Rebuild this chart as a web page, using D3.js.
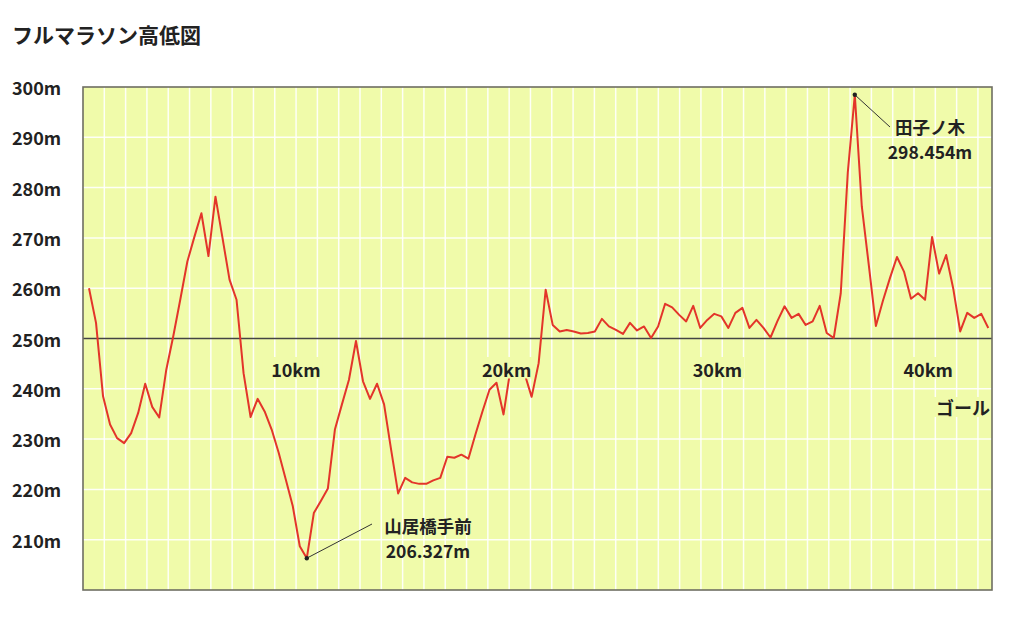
<!DOCTYPE html>
<html>
<head>
<meta charset="utf-8">
<script src="https://cdn.jsdelivr.net/npm/d3@7"></script>
<style>
  html, body { margin: 0; padding: 0; background: #ffffff; }
  svg { display: block; }
  text { font-family: "Noto Sans CJK JP", "Noto Sans", sans-serif; fill: #222; }
</style>
</head>
<body>
<svg id="chart" width="1024" height="622"></svg>
<script>
// ---- data ----
const title = "フルマラソン高低図";
const elevations = [
  260.0, 253.1, 238.5, 232.9, 230.2, 229.2, 231.2, 235.2, 241.0, 236.4,
  234.3, 243.8, 250.5, 257.8, 265.3, 270.2, 274.9, 266.4, 278.2, 270.0,
  261.7, 257.7, 243.1, 234.4, 238.0, 235.5, 231.9, 227.3, 222.0, 216.7,
  208.7, 206.327, 215.3, 217.7, 220.2, 231.9, 236.9, 241.8, 249.5, 241.5,
  238.0, 241.0, 236.9, 227.9, 219.2, 222.3, 221.4, 221.1, 221.1, 221.8,
  222.3, 226.5, 226.3, 226.9, 226.1, 230.9, 235.5, 239.8, 241.2, 234.9,
  244.0, 245.0, 243.0, 238.4, 245.1, 259.7, 252.7, 251.4, 251.7, 251.4,
  251.0, 251.1, 251.4, 253.9, 252.4, 251.7, 250.9, 253.1, 251.6, 252.4,
  250.1, 252.4, 256.9, 256.2, 254.7, 253.4, 256.5, 252.1, 253.7, 254.9,
  254.4, 252.1, 255.1, 256.1, 252.1, 253.7, 252.1, 250.2, 253.5, 256.4,
  254.1, 254.9, 252.7, 253.4, 256.5, 251.1, 250.1, 259.0, 283.0, 298.454,
  276.2, 264.5, 252.5, 257.5, 262.0, 266.2, 263.3, 257.9, 259.0, 257.7,
  270.2, 262.9, 266.6, 260.0, 251.4, 255.1, 254.1, 254.9, 252.1
];
const yTicks = [300, 290, 280, 270, 260, 250, 240, 230, 220, 210];
const gridLevels = [290, 280, 270, 260, 240, 230, 220, 210];
const baseLevel = 250;
const kmMarks = [10, 20, 30, 40];
const kmLabels = ["10km", "20km", "30km", "40km"];
const goalLabel = "ゴール";
const annotationIndex = [31, 109];
const annotationNames = ["山居橋手前", "田子ノ木"];
const annotationValues = ["206.327m", "298.454m"];

// ---- layout ----
const plot = { left: 83, right: 992, top: 87, bottom: 590 };
const bg = "#f0fbaa";
const svg = d3.select("#chart");

const x = d3.scaleLinear().domain([0, elevations.length - 1]).range([89, 988.3]);
const y = d3.scaleLinear().domain([200, 300]).range([plot.bottom, plot.top]);
const km = d3.scaleLinear().domain([-0.1, 43.03]).range([plot.left, plot.right]);
const grid = d3.scaleLinear().domain([0, 42.66]).range([plot.left, plot.right]);

// title
svg.append("text")
  .attr("x", 12).attr("y", 34)
  .attr("dominant-baseline", "central")
  .style("font-size", "21px").style("font-weight", 700)
  .text(title);

// plot background
svg.append("rect")
  .attr("x", plot.left).attr("y", plot.top)
  .attr("width", plot.right - plot.left).attr("height", plot.bottom - plot.top)
  .attr("fill", bg);

// vertical grid
svg.append("g").selectAll("line")
  .data(d3.range(1, 43))
  .join("line")
  .attr("x1", d => grid(d)).attr("x2", d => grid(d))
  .attr("y1", plot.top).attr("y2", plot.bottom)
  .attr("stroke", "#ffffff").attr("stroke-opacity", 0.9).attr("stroke-width", 1.5);

// horizontal grid
svg.append("g").selectAll("line")
  .data(gridLevels)
  .join("line")
  .attr("x1", plot.left).attr("x2", plot.right)
  .attr("y1", d => y(d)).attr("y2", d => y(d))
  .attr("stroke", "#ffffff").attr("stroke-opacity", 0.9).attr("stroke-width", 1.5);

// base line 250m
svg.append("line")
  .attr("x1", plot.left).attr("x2", plot.right)
  .attr("y1", y(baseLevel)).attr("y2", y(baseLevel))
  .attr("stroke", "#444").attr("stroke-width", 1.3);

// y labels
svg.append("g").selectAll("text")
  .data(yTicks)
  .join("text")
  .attr("x", 12).attr("y", d => y(d))
  .attr("dominant-baseline", "central")
  .style("font-size", "18px").style("font-weight", 700)
  .text(d => d + "m");

// elevation line
svg.append("path")
  .datum(elevations)
  .attr("d", d3.line().x((d, i) => x(i)).y(d => y(d)))
  .attr("fill", "none")
  .attr("stroke", "#e3352a").attr("stroke-width", 2)
  .attr("stroke-linejoin", "round");

// km labels with background boxes
const kmG = svg.append("g");
kmMarks.forEach((m, i) => {
  const g = kmG.append("g");
  const t = g.append("text")
    .attr("x", km(m)).attr("y", 369)
    .attr("text-anchor", "middle").attr("dominant-baseline", "central")
    .style("font-size", "18px").style("font-weight", 700)
    .text(kmLabels[i]);
  const bb = t.node().getBBox();
  g.insert("rect", "text")
    .attr("x", bb.x - 2).attr("y", 357)
    .attr("width", bb.width + 4).attr("height", 21.5)
    .attr("fill", bg);
});

// goal label
(function () {
  const g = svg.append("g");
  const t = g.append("text")
    .attr("x", 990).attr("y", 407)
    .attr("text-anchor", "end").attr("dominant-baseline", "central")
    .style("font-size", "18px").style("font-weight", 700)
    .text(goalLabel);
  const bb = t.node().getBBox();
  g.insert("rect", "text")
    .attr("x", bb.x - 2).attr("y", 397)
    .attr("width", bb.width + 2).attr("height", 20)
    .attr("fill", bg);
})();

// annotations
const annoLayout = [
  { lx: 372, ly: 524, tx: 428, ty1: 525, ty2: 550.5 },
  { lx: 890, ly: 127, tx: 930, ty1: 126, ty2: 151.5 }
];
annotationIndex.forEach((idx, i) => {
  const px = x(idx), py = y(elevations[idx]);
  const L = annoLayout[i];
  svg.append("line")
    .attr("x1", px).attr("y1", py).attr("x2", L.lx).attr("y2", L.ly)
    .attr("stroke", "#333").attr("stroke-width", 1);
  svg.append("circle")
    .attr("cx", px).attr("cy", py).attr("r", 2.2).attr("fill", "#222");
  svg.append("text")
    .attr("x", L.tx).attr("y", L.ty1)
    .attr("text-anchor", "middle").attr("dominant-baseline", "central")
    .style("font-size", "17.5px").style("font-weight", 700)
    .text(annotationNames[i]);
  svg.append("text")
    .attr("x", L.tx).attr("y", L.ty2)
    .attr("text-anchor", "middle").attr("dominant-baseline", "central")
    .style("font-size", "17.5px").style("font-weight", 700)
    .text(annotationValues[i]);
});

// border
svg.append("rect")
  .attr("x", plot.left).attr("y", plot.top)
  .attr("width", plot.right - plot.left).attr("height", plot.bottom - plot.top)
  .attr("fill", "none").attr("stroke", "#6e6e62").attr("stroke-width", 1.6);
</script>
</body>
</html>
